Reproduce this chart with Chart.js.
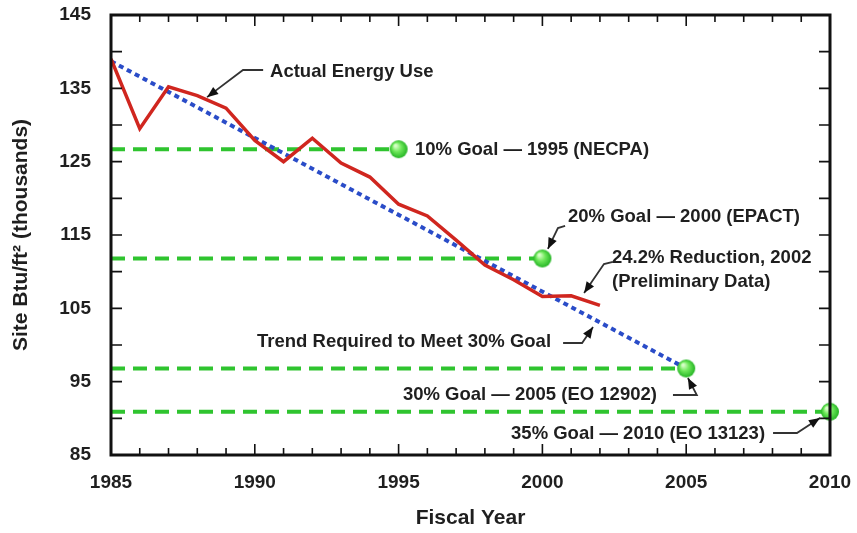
<!DOCTYPE html>
<html>
<head>
<meta charset="utf-8">
<script src="https://cdn.jsdelivr.net/npm/chart.js@4.4.0/dist/chart.umd.min.js"></script>
<style>
  body { margin: 0; background: #fff; }
  #wrap { width: 857px; height: 533px; }
</style>
</head>
<body>
<div id="wrap"><canvas id="energyChart" width="857" height="533"></canvas></div>
<script>
// fiscal years with actual energy use data
const years = [1985, 1986, 1987, 1988, 1989, 1990, 1991, 1992, 1993, 1994, 1995, 1996, 1997, 1998, 1999, 2000, 2001, 2002];
const actualUse = [139.0, 129.5, 135.2, 134.0, 132.3, 127.9, 125.0, 128.2, 124.8, 122.9, 119.2, 117.6, 114.3, 110.9, 108.9, 106.6, 106.7, 105.4];

// straight trend needed to hit the 30% goal
const trendYears = [1985, 2005];
const trendValues = [138.7, 96.8];

// goals
const goalYears = [1995, 2000, 2005, 2010];
const goalValues = [126.7, 111.8, 96.8, 90.9];

const xTicks = [1985, 1990, 1995, 2000, 2005, 2010];
const yTicks = [85, 95, 105, 115, 125, 135, 145];

// callouts: text, anchor [year, value], alignment, arrow path
const notes = [
    { lines: ['Actual Energy Use'], at: [1990.53, 137.23], align: 'left',
      arrow: [[1990.29, 137.5], [1989.59, 137.5], [1988.34, 133.8]] },
    { lines: ['10% Goal \u2014 1995 (NECPA)'], at: [1995.57, 126.59], align: 'left', arrow: null },
    { lines: ['20% Goal \u2014 2000 (EPACT)'], at: [2000.89, 117.45], align: 'left',
      arrow: [[2000.79, 116.23], [2000.54, 115.95], [2000.19, 113.1]] },
    { lines: ['24.2% Reduction, 2002', '(Preliminary Data)'], at: [2002.42, 111.86], align: 'left',
      arrow: [[2002.45, 111.32], [2002.14, 111.04], [2001.45, 107.1]] },
    { lines: ['Trend Required to Meet 30% Goal'], at: [2000.30, 100.41], align: 'right',
      arrow: [[2000.72, 100.27], [2001.38, 100.27], [2001.76, 102.45]] },
    { lines: ['30% Goal \u2014 2005 (EO 12902)'], at: [1995.15, 93.18], align: 'left',
      arrow: [[2004.54, 93.18], [2005.37, 93.18], [2005.06, 95.5]] },
    { lines: ['35% Goal \u2014 2010 (EO 13123)'], at: [1998.91, 87.86], align: 'left',
      arrow: [[2008.02, 88.0], [2008.85, 88.0], [2009.65, 90.04]] }
];

const FONT = "'Liberation Sans', Arial, sans-serif";
const INK = '#1f1f1f';
const GREEN = '#2fc42f';

function makeBall(r) {
    const c = document.createElement('canvas');
    c.width = r * 2 + 2;
    c.height = r * 2 + 2;
    const g = c.getContext('2d');
    const grad = g.createRadialGradient(r * 0.75, r * 0.7, 1, r + 1, r + 1, r);
    grad.addColorStop(0, '#d8ffc8');
    grad.addColorStop(0.45, '#6ee85a');
    grad.addColorStop(1, '#25b425');
    g.fillStyle = grad;
    g.beginPath();
    g.arc(r + 1, r + 1, r, 0, Math.PI * 2);
    g.fill();
    return c;
}
const ball = makeBall(9);

const goalLineSets = goalYears.map((gy, i) => ({
    label: 'goal' + i,
    data: [{ x: years[0], y: goalValues[i] }, { x: gy, y: goalValues[i] }],
    borderColor: GREEN,
    borderWidth: 4,
    borderDash: [14, 8],
    pointRadius: 0,
    fill: false,
    order: 3
}));

const frameAndTicks = {
    id: 'frameAndTicks',
    afterDatasetsDraw(chart) {
        const { ctx, chartArea: a, scales } = chart;
        ctx.save();
        ctx.strokeStyle = '#111';
        ctx.lineWidth = 1.6;
        for (let yr = 1985; yr <= 2010; yr++) {
            const x = scales.x.getPixelForValue(yr);
            const len = yr % 5 === 0 ? 11 : 7;
            ctx.beginPath();
            ctx.moveTo(x, a.bottom); ctx.lineTo(x, a.bottom - len);
            ctx.moveTo(x, a.top); ctx.lineTo(x, a.top + len);
            ctx.stroke();
        }
        for (let v = 85; v <= 145; v += 5) {
            const y = scales.y.getPixelForValue(v);
            ctx.beginPath();
            ctx.moveTo(a.left, y); ctx.lineTo(a.left + 11, y);
            ctx.moveTo(a.right, y); ctx.lineTo(a.right - 11, y);
            ctx.stroke();
        }
        ctx.lineWidth = 3;
        ctx.strokeRect(a.left, a.top, a.right - a.left, a.bottom - a.top);
        ctx.restore();
    }
};

const callouts = {
    id: 'callouts',
    afterDraw(chart) {
        const { ctx, scales } = chart;
        const px = v => scales.x.getPixelForValue(v);
        const py = v => scales.y.getPixelForValue(v);
        ctx.save();
        ctx.font = 'bold 18.5px ' + FONT;
        ctx.fillStyle = INK;
        ctx.textBaseline = 'middle';
        notes.forEach(n => {
            ctx.textAlign = n.align;
            n.lines.forEach((t, k) => ctx.fillText(t, px(n.at[0]), py(n.at[1]) + k * 24));
            if (!n.arrow) return;
            const pts = n.arrow.map(p => [px(p[0]), py(p[1])]);
            ctx.strokeStyle = '#333';
            ctx.lineWidth = 1.8;
            ctx.beginPath();
            ctx.moveTo(pts[0][0], pts[0][1]);
            for (let k = 1; k < pts.length; k++) ctx.lineTo(pts[k][0], pts[k][1]);
            ctx.stroke();
            // arrow head
            const [x1, y1] = pts[pts.length - 2];
            const [x2, y2] = pts[pts.length - 1];
            const ang = Math.atan2(y2 - y1, x2 - x1);
            ctx.fillStyle = '#111';
            ctx.beginPath();
            ctx.moveTo(x2, y2);
            ctx.lineTo(x2 - 11 * Math.cos(ang) + 4.5 * Math.sin(ang), y2 - 11 * Math.sin(ang) - 4.5 * Math.cos(ang));
            ctx.lineTo(x2 - 11 * Math.cos(ang) - 4.5 * Math.sin(ang), y2 - 11 * Math.sin(ang) + 4.5 * Math.cos(ang));
            ctx.closePath();
            ctx.fill();
            ctx.fillStyle = INK;
        });
        ctx.restore();
    }
};

new Chart(document.getElementById('energyChart'), {
    type: 'line',
    data: {
        datasets: [
            {
                label: 'Actual Energy Use',
                data: years.map((y, i) => ({ x: y, y: actualUse[i] })),
                borderColor: '#d0261f',
                borderWidth: 3.5,
                pointRadius: 0,
                tension: 0,
                order: 1
            },
            {
                label: 'Trend',
                data: trendYears.map((y, i) => ({ x: y, y: trendValues[i] })),
                borderColor: '#2a4cc8',
                borderWidth: 4,
                borderDash: [5, 4],
                pointRadius: 0,
                order: 2
            },
            ...goalLineSets,
            {
                label: 'Goals',
                data: goalYears.map((y, i) => ({ x: y, y: goalValues[i] })),
                showLine: false,
                pointStyle: ball,
                pointRadius: 9,
                clip: false,
                order: 0
            }
        ]
    },
    options: {
        responsive: false,
        animation: false,
        events: [],
        layout: { padding: { top: 15, right: 27, left: 0, bottom: 0 } },
        plugins: {
            legend: { display: false },
            tooltip: { enabled: false }
        },
        scales: {
            x: {
                type: 'linear',
                min: 1985,
                max: 2010,
                afterFit: s => { s.height = 78; s.paddingLeft = 0; s.paddingRight = 0; },
                afterBuildTicks: s => { s.ticks = xTicks.map(v => ({ value: v })); },
                grid: { display: false, drawTicks: false },
                border: { display: false },
                ticks: {
                    padding: 16,
                    color: INK,
                    font: { family: FONT, size: 19, weight: 'bold' },
                    callback: v => String(v)
                },
                title: {
                    display: true,
                    text: 'Fiscal Year',
                    color: INK,
                    font: { family: FONT, size: 21, weight: 'bold' },
                    padding: { top: 4, bottom: 2 }
                }
            },
            y: {
                min: 85,
                max: 145,
                afterFit: s => { s.width = 111; s.paddingTop = 0; s.paddingBottom = 0; },
                afterBuildTicks: s => { s.ticks = yTicks.map(v => ({ value: v })); },
                grid: { display: false, drawTicks: false },
                border: { display: false },
                ticks: {
                    padding: 20,
                    color: INK,
                    font: { family: FONT, size: 19, weight: 'bold' }
                },
                title: {
                    display: true,
                    text: 'Site Btu/ft\u00b2 (thousands)',
                    color: INK,
                    font: { family: FONT, size: 21, weight: 'bold' },
                    padding: { top: 9, bottom: 0 }
                }
            }
        }
    },
    plugins: [frameAndTicks, callouts]
});
</script>
</body>
</html>
